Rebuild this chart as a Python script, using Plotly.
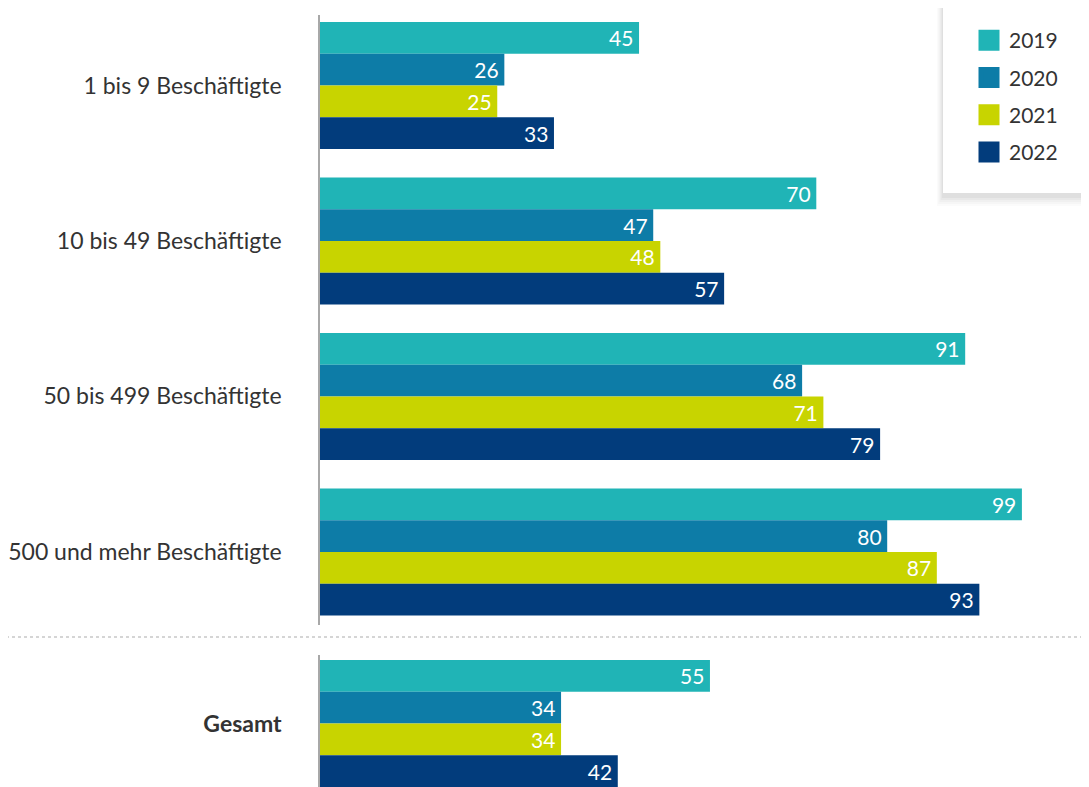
import plotly.graph_objects as go
from plotly.subplots import make_subplots

categories = ["1 bis 9 Beschäftigte", "10 bis 49 Beschäftigte", "50 bis 499 Beschäftigte", "500 und mehr Beschäftigte"]
total_label = ["Gesamt"]
years = ["2019", "2020", "2021", "2022"]
v2019 = [45, 70, 91, 99]
v2020 = [26, 47, 68, 80]
v2021 = [25, 48, 71, 87]
v2022 = [33, 57, 79, 93]
total2019 = [55]
total2020 = [34]
total2021 = [34]
total2022 = [42]

series = [v2019, v2020, v2021, v2022]
totals = [total2019, total2020, total2021, total2022]
colors = ["#20b4b6", "#0d7ca7", "#c8d400", "#023c7c"]

FONT = "Lato"
OFF = 8  # page body margin
W = 1089 - OFF
H = 787 - OFF
L = 320 - OFF
W_PLOT = W - L


def fy(px):
    """screen y pixel -> paper fraction"""
    return 1 - (px - OFF) / H


def fx(px):
    """screen x pixel -> paper fraction (relative to plot area)"""
    return (px - OFF - L) / W_PLOT


fig = make_subplots(rows=2, cols=1, shared_xaxes=False)

for yr, vals, tot, col in zip(years, series, totals, colors):
    fig.add_trace(go.Bar(
        y=categories, x=vals, orientation="h", name=yr, marker=dict(color=col, line=dict(width=0)),
        text=[f"{v}\u2009" for v in vals], textposition="inside", insidetextanchor="end",
        textfont=dict(color="white", size=21, family=FONT), showlegend=False,
        hoverinfo="skip"), row=1, col=1)
    fig.add_trace(go.Bar(
        y=total_label, x=tot, orientation="h", name=yr, marker=dict(color=col, line=dict(width=0)),
        text=[f"{v}\u2009" for v in tot], textposition="inside", insidetextanchor="end",
        textfont=dict(color="white", size=21, family=FONT), showlegend=False,
        hoverinfo="skip"), row=2, col=1)

# legend entries
for yr, col in zip(years, colors):
    fig.add_trace(go.Scatter(
        x=[None], y=[None], mode="markers", name=yr, legendgroup=yr,
        marker=dict(symbol="square", size=16, color=col, line=dict(color=col, width=5)),
        showlegend=True), row=1, col=1)

xrange = [0, W_PLOT / 7.09]

fig.update_xaxes(range=xrange, visible=False, showgrid=False, zeroline=False)
fig.update_layout(
    xaxis=dict(domain=[0, 1]), xaxis2=dict(domain=[0, 1]),
    yaxis=dict(domain=[fy(625), fy(15)], range=[3.47, -0.453], showline=True,
               linecolor="#a8a8a8", linewidth=1.5, showgrid=False, zeroline=False,
               ticks="", ticklabelstandoff=32,
               tickfont=dict(family=FONT, size=23, color="#333333")),
    yaxis2=dict(domain=[0, fy(655)], range=[0.408, -0.44], showline=True,
                linecolor="#a8a8a8", linewidth=1.5, showgrid=False, zeroline=False,
                ticks="", ticklabelstandoff=32, tickmode="array", tickvals=total_label,
                ticktext=["<b>Gesamt</b>"],
                tickfont=dict(family=FONT, size=23, color="#333333")),
)

shapes = []
# legend box with soft shadow
lx0, lx1, ly0, ly1 = 943, 1100, 5, 193
for d, op in [(10, 0.015), (8, 0.02), (6, 0.025), (4, 0.03), (2, 0.035)]:
    shapes.append(dict(type="rect", xref="paper", yref="paper", layer="above",
                       x0=fx(lx0 - d * 0.6), x1=fx(lx1 + d),
                       y0=fy(ly1 + d + 3), y1=fy(ly0 - d * 0.4),
                       fillcolor=f"rgba(0,0,0,{op})", line=dict(width=0)))
shapes.append(dict(type="rect", xref="paper", yref="paper", layer="above",
                   x0=fx(lx0), x1=fx(lx1), y0=fy(ly1), y1=fy(ly0),
                   fillcolor="white", line=dict(width=0)))
shapes.append(dict(type="line", xref="paper", yref="paper", x0=fx(0), x1=1,
                   y0=fy(637), y1=fy(637), line=dict(color="#c8c8c8", width=1.5, dash="dot")))

fig.update_layout(
    width=W, height=H,
    margin=dict(l=L, r=0, t=0, b=0),
    barmode="group", bargap=0.183, bargroupgap=0,
    plot_bgcolor="white", paper_bgcolor="white",
    font=dict(family=FONT, color="#333333"),
    shapes=shapes,
    uniformtext=dict(mode="show", minsize=10),
    legend=dict(x=fx(969), xanchor="left", y=fy(20), yanchor="top",
                bgcolor="rgba(0,0,0,0)", font=dict(family=FONT, size=21, color="#333333"),
                traceorder="grouped", tracegroupgap=7, itemsizing="trace"),
)

fig.write_html("out.html")
